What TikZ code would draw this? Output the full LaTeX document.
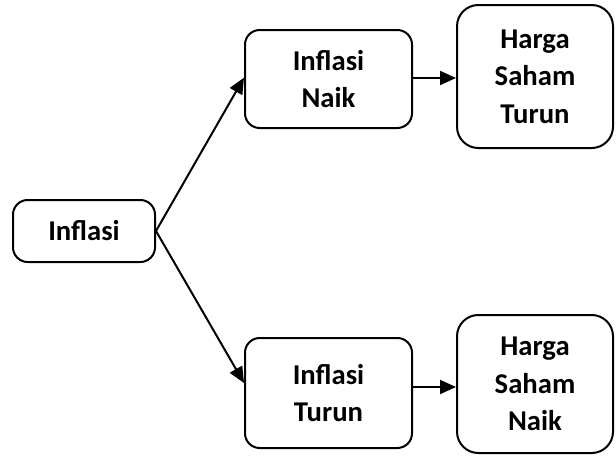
\documentclass[tikz,border=0pt]{standalone}
\usepackage{fontspec}
\setmainfont{Carlito}
\usetikzlibrary{arrows.meta}
\begin{document}
\begin{tikzpicture}[x=0.75pt,y=-0.75pt,
  box/.style={draw, line width=1.5pt, rounded corners=11pt, align=center,
    font=\bfseries\fontsize{21.5}{28}\selectfont, inner sep=0pt},
  bigbox/.style={box, rounded corners=16pt},
  link/.style={line width=1.5pt, -{Triangle[length=12pt,width=10.5pt]}}]
\useasboundingbox (0,0) rectangle (616,457);
% source and the two outcomes of inflation
\node[box, minimum width=142*0.75pt, minimum height=62*0.75pt] (inf) at (84,231) {Inflasi};
\node[box, minimum width=167*0.75pt, minimum height=98*0.75pt] (up) at (328.5,79) {Inflasi\\Naik};
\node[box, minimum width=167*0.75pt, minimum height=110*0.75pt] (dn) at (328.5,393) {Inflasi\\Turun};
% effect on share prices
\node[bigbox, minimum width=156*0.75pt, minimum height=143*0.75pt] (hst) at (535,76.5) {Harga\\Saham\\Turun};
\node[bigbox, minimum width=156*0.75pt, minimum height=138*0.75pt] (hsn) at (535,384) {Harga\\Saham\\Naik};
% connectors
\draw[link] (inf.east) -- ([yshift=1pt]up.west);
\draw[link] (inf.east) -- ([yshift=7.5pt]dn.west);
\draw[link] ([yshift=0.75pt]up.east) -- ([yshift=0.75pt]up.east -| hst.west);
\draw[link] ([yshift=4.5pt]dn.east) -- ([yshift=4.5pt]dn.east -| hsn.west);
\end{tikzpicture}
\end{document}
